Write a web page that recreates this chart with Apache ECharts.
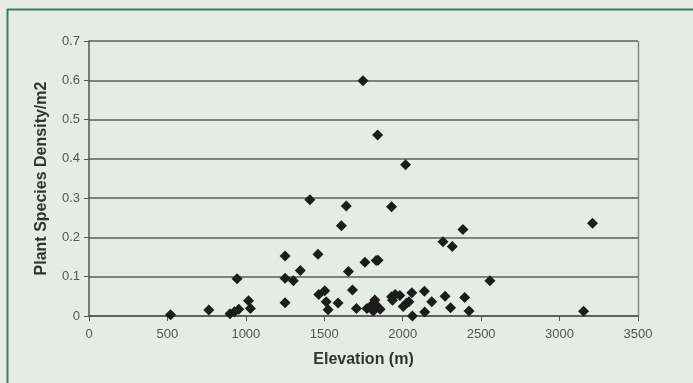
<!DOCTYPE html>
<html>
<head>
<meta charset="utf-8">
<script src="https://cdn.jsdelivr.net/npm/echarts@6/dist/echarts.min.js"></script>
<style>
html,body{margin:0;padding:0;background:#e5ebe5;}
#c{width:693px;height:383px;}
</style>
</head>
<body>
<div id="c"></div>
<script>
const elevation = [520,764,899,927,955,944,1017,1029,1250,1250,1250,1303,1347,1408,1460,1465,1503,1512,1524,1588,1609,1640,1654,1680,1705,1747,1759,1772,1795,1812,1822,1826,1831,1843,1840,1856,1929,1929,1935,1952,1982,2003,2018,2025,2040,2058,2062,2138,2140,2185,2257,2270,2305,2316,2384,2395,2423,2556,3153,3210];
const density = [0.003,0.015,0.006,0.011,0.017,0.095,0.039,0.019,0.153,0.096,0.034,0.090,0.116,0.296,0.157,0.055,0.064,0.036,0.016,0.033,0.230,0.280,0.113,0.066,0.019,0.599,0.137,0.019,0.025,0.013,0.041,0.030,0.141,0.142,0.461,0.017,0.278,0.049,0.040,0.055,0.052,0.024,0.385,0.033,0.036,0.059,0.000,0.063,0.010,0.036,0.189,0.050,0.021,0.177,0.220,0.047,0.013,0.090,0.012,0.236];
const xTitle = "Elevation (m)";
const yTitle = "Plant Species Density/m2";

const pts = elevation.map((e,i)=>[e,density[i]]);
const chart = echarts.init(document.getElementById('c'));
chart.setOption({
  backgroundColor:'#e5ebe5',
  animation:false,
  textStyle:{fontFamily:'Liberation Sans, Arial, sans-serif'},
  graphic:[
    {type:'line',shape:{x1:7.5,y1:9,x2:7.5,y2:383},style:{stroke:'#3f7b6c',lineWidth:2}},
    {type:'line',shape:{x1:7,y1:9.5,x2:693,y2:9.5},style:{stroke:'#3f7b6c',lineWidth:2}},
    {type:'line',shape:{x1:638.5,y1:41,x2:638.5,y2:316},style:{stroke:'#888',lineWidth:1.5}}
  ],
  grid:{left:89,top:41,width:549,height:275},
  xAxis:{
    type:'value',min:0,max:3500,interval:500,
    name:xTitle,nameLocation:'middle',nameGap:36,
    nameTextStyle:{fontSize:16,fontWeight:'bold',color:'#333'},
    axisLine:{show:true,lineStyle:{color:'#555',width:1.5}},
    axisTick:{show:true,length:5,lineStyle:{color:'#555'}},
    axisLabel:{color:'#555',fontSize:13,margin:12,formatter:v=>String(v)},
    splitLine:{show:false}
  },
  yAxis:{
    type:'value',min:0,max:0.7,interval:0.1,
    name:yTitle,nameLocation:'middle',nameGap:39,
    nameTextStyle:{fontSize:16,fontWeight:'bold',color:'#333'},
    axisLine:{show:true,lineStyle:{color:'#555',width:1.5}},
    axisTick:{show:true,length:5,lineStyle:{color:'#555'}},
    axisLabel:{color:'#555',fontSize:13,margin:9,formatter:v=>String(Math.round(v*10)/10)},
    splitLine:{show:true,lineStyle:{color:'#808080',width:2}}
  },
  series:[{
    type:'scatter',
    data:pts,
    symbol:'diamond',
    symbolSize:[11,11],
    itemStyle:{color:'#1c1c1c',opacity:1}
  }]
});
</script>
</body>
</html>
